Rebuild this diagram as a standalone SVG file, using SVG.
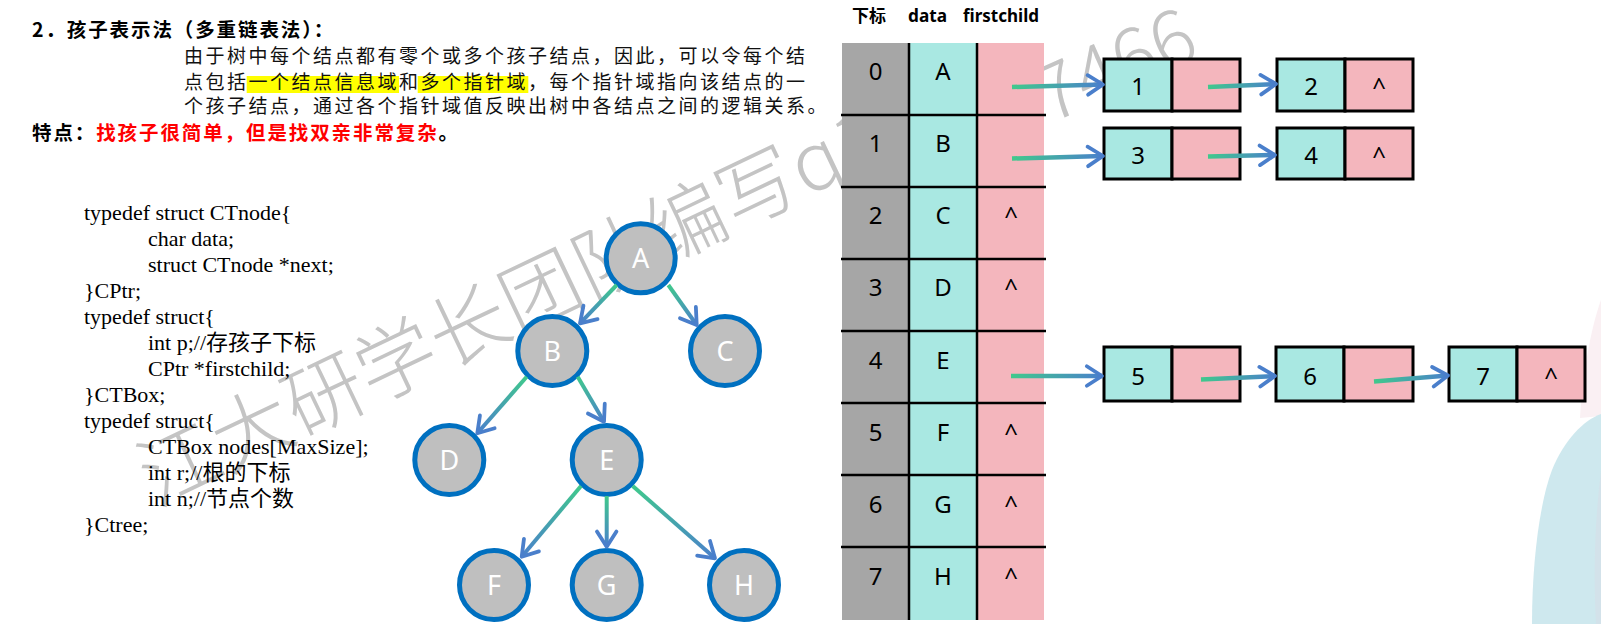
<svg xmlns="http://www.w3.org/2000/svg" width="1601" height="624" viewBox="0 0 1601 624">
<style>
.wm{font-family:"Noto Sans CJK SC","Noto Sans",sans-serif;font-weight:300;fill:#C4C4C4}
.ttl{font-family:"Noto Sans CJK SC",sans-serif;font-weight:bold;font-size:19.5px;letter-spacing:1.9px;fill:#000}
.par{font-family:"Noto Sans CJK SC",sans-serif;font-size:19px;letter-spacing:2.5px;fill:#111}
.code{font-family:"Liberation Serif","Noto Sans CJK SC",serif;font-size:22px;fill:#000}
.hl{fill:#FFFF00}
.hdr{font-family:"Noto Sans","Noto Sans CJK SC",sans-serif;font-weight:bold;font-size:17px;fill:#000}
.cell{font-family:"Noto Sans",sans-serif;font-size:24px;fill:#000;text-anchor:middle}
.tn circle{fill:#BFBFBF;stroke:#0070C0;stroke-width:5}
.tn text{font-family:"Noto Sans",sans-serif;font-size:27px;fill:#fff;text-anchor:middle}
.bx{stroke:#000;stroke-width:3}
.cy{fill:#A9E8E2}
.pk{fill:#F4B6BD}
.gr{fill:#A6A6A6}
.tl{stroke:#000;stroke-width:2.5}
.ce{fill:none;stroke-width:4}
.le{fill:none;stroke-width:4.5}
</style>
<defs>
<marker id="ah" markerUnits="userSpaceOnUse" markerWidth="26" markerHeight="26" viewBox="0 0 24 24" refX="20" refY="12" orient="auto">
<path d="M6,3 L20,12 L6,21" fill="none" stroke="#4A7FCB" stroke-width="3.5" stroke-linecap="round" stroke-linejoin="round"/>
</marker>
<linearGradient id="g1" gradientUnits="userSpaceOnUse" x1="616.7" y1="285" x2="580" y2="323.3"><stop offset="0" stop-color="#40C98C"/><stop offset="1" stop-color="#4A80CC"/></linearGradient>
<linearGradient id="g2" gradientUnits="userSpaceOnUse" x1="668.3" y1="285" x2="696.7" y2="325"><stop offset="0" stop-color="#40C98C"/><stop offset="1" stop-color="#4A80CC"/></linearGradient>
<linearGradient id="g3" gradientUnits="userSpaceOnUse" x1="526.7" y1="376.7" x2="477.3" y2="433.3"><stop offset="0" stop-color="#40C98C"/><stop offset="1" stop-color="#4A80CC"/></linearGradient>
<linearGradient id="g4" gradientUnits="userSpaceOnUse" x1="577.7" y1="376.7" x2="604" y2="421.7"><stop offset="0" stop-color="#40C98C"/><stop offset="1" stop-color="#4A80CC"/></linearGradient>
<linearGradient id="g5" gradientUnits="userSpaceOnUse" x1="581" y1="486" x2="521.7" y2="556.7"><stop offset="0" stop-color="#40C98C"/><stop offset="1" stop-color="#4A80CC"/></linearGradient>
<linearGradient id="g6" gradientUnits="userSpaceOnUse" x1="606.7" y1="496" x2="606.7" y2="546.7"><stop offset="0" stop-color="#40C98C"/><stop offset="1" stop-color="#4A80CC"/></linearGradient>
<linearGradient id="g7" gradientUnits="userSpaceOnUse" x1="632.7" y1="486" x2="715" y2="558.3"><stop offset="0" stop-color="#40C98C"/><stop offset="1" stop-color="#4A80CC"/></linearGradient>
<linearGradient id="h1" gradientUnits="userSpaceOnUse" x1="1012" y1="87" x2="1103" y2="84.5"><stop offset="0" stop-color="#40C98C"/><stop offset="1" stop-color="#4A80CC"/></linearGradient>
<linearGradient id="h2" gradientUnits="userSpaceOnUse" x1="1208" y1="87" x2="1276" y2="84"><stop offset="0" stop-color="#40C98C"/><stop offset="1" stop-color="#4A80CC"/></linearGradient>
<linearGradient id="h3" gradientUnits="userSpaceOnUse" x1="1012" y1="158.5" x2="1103" y2="156"><stop offset="0" stop-color="#40C98C"/><stop offset="1" stop-color="#4A80CC"/></linearGradient>
<linearGradient id="h4" gradientUnits="userSpaceOnUse" x1="1208" y1="156.5" x2="1275" y2="155"><stop offset="0" stop-color="#40C98C"/><stop offset="1" stop-color="#4A80CC"/></linearGradient>
<linearGradient id="h5" gradientUnits="userSpaceOnUse" x1="1011" y1="376" x2="1102" y2="376"><stop offset="0" stop-color="#40C98C"/><stop offset="1" stop-color="#4A80CC"/></linearGradient>
<linearGradient id="h6" gradientUnits="userSpaceOnUse" x1="1201" y1="379.5" x2="1275" y2="376"><stop offset="0" stop-color="#40C98C"/><stop offset="1" stop-color="#4A80CC"/></linearGradient>
<linearGradient id="h7" gradientUnits="userSpaceOnUse" x1="1374" y1="381.5" x2="1448" y2="375.5"><stop offset="0" stop-color="#40C98C"/><stop offset="1" stop-color="#4A80CC"/></linearGradient>
</defs>
<rect width="1601" height="624" fill="#fff"/>
<g id="decoration">
<path d="M1601,300 C1590,330 1582,380 1580,418 L1601,416 Z" fill="#FAF0F3"/>
<path d="M1601,414 C1584,420 1564,440 1552,470 C1540,502 1532,560 1532,624 L1601,624 Z" fill="#CEE8EE"/>
<path d="M1601,470 C1595,520 1593,570 1596,624 L1601,624 Z" fill="#D3E2EA"/>
</g>
<g id="watermark">
<text class="wm" font-size="80" transform="translate(156,507) rotate(-25.5)">江大研学长团队编写q1</text>
<text class="wm" font-size="78" transform="translate(1050,124) rotate(-24)">7466</text>
</g>
<g id="description">
<text class="ttl" x="32" y="37">2．孩子表示法（多重链表法）：</text>
<rect class="hl" x="246.7" y="76" width="152.3" height="17"/>
<rect class="hl" x="417.7" y="76" width="110.6" height="17"/>
<text class="par" x="184" y="63">由于树中每个结点都有零个或多个孩子结点，因此，可以令每个结</text>
<text class="par" x="184" y="88.5">点包括一个结点信息域和多个指针域，每个指针域指向该结点的一</text>
<text class="par" x="184" y="113">个孩子结点，通过各个指针域值反映出树中各结点之间的逻辑关系。</text>
<text class="ttl" x="32" y="140">特点：<tspan fill="#FF0000">找孩子很简单，但是找双亲非常复杂</tspan>。</text>
</g>
<g id="code">
<text class="code" x="84" y="220">typedef struct CTnode{</text>
<text class="code" x="148" y="246">char data;</text>
<text class="code" x="148" y="272">struct CTnode *next;</text>
<text class="code" x="84" y="298">}CPtr;</text>
<text class="code" x="84" y="324">typedef struct{</text>
<text class="code" x="148" y="350">int p;//存孩子下标</text>
<text class="code" x="148" y="376">CPtr *firstchild;</text>
<text class="code" x="84" y="402">}CTBox;</text>
<text class="code" x="84" y="428">typedef struct{</text>
<text class="code" x="148" y="454">CTBox nodes[MaxSize];</text>
<text class="code" x="148" y="480">int r;//根的下标</text>
<text class="code" x="148" y="506">int n;//节点个数</text>
<text class="code" x="84" y="532">}Ctree;</text>
</g>
<g id="tree-A" class="tn"><circle cx="640.7" cy="258.3" r="34.5"/><text x="640.7" y="268">A</text></g>
<g id="tree-B" class="tn"><circle cx="552.3" cy="351" r="34.5"/><text x="552.3" y="360.7">B</text></g>
<g id="tree-C" class="tn"><circle cx="725" cy="351" r="34.5"/><text x="725" y="360.7">C</text></g>
<g id="tree-D" class="tn"><circle cx="449.3" cy="460" r="34.5"/><text x="449.3" y="469.7">D</text></g>
<g id="tree-E" class="tn"><circle cx="606.7" cy="460" r="34.5"/><text x="606.7" y="469.7">E</text></g>
<g id="tree-F" class="tn"><circle cx="494" cy="585" r="34.5"/><text x="494" y="594.7">F</text></g>
<g id="tree-G" class="tn"><circle cx="606.7" cy="585" r="34.5"/><text x="606.7" y="594.7">G</text></g>
<g id="tree-H" class="tn"><circle cx="744" cy="585" r="34.5"/><text x="744" y="594.7">H</text></g>
<g id="table">
<text class="hdr" x="852" y="22" font-size="20">下标</text>
<text class="hdr" x="908" y="22" textLength="39" lengthAdjust="spacingAndGlyphs">data</text>
<text class="hdr" x="963" y="22" textLength="76" lengthAdjust="spacingAndGlyphs">firstchild</text>
<rect class="gr" x="842" y="43" width="67" height="577"/>
<rect class="cy" x="909" y="43" width="68" height="577"/>
<rect class="pk" x="977" y="43" width="67" height="577"/>
<line class="tl" x1="909" y1="43" x2="909" y2="620"/>
<line class="tl" x1="977" y1="43" x2="977" y2="620"/>
<line class="tl" x1="841" y1="115" x2="1046" y2="115"/>
<line class="tl" x1="841" y1="187" x2="1046" y2="187"/>
<line class="tl" x1="841" y1="259" x2="1046" y2="259"/>
<line class="tl" x1="841" y1="331" x2="1046" y2="331"/>
<line class="tl" x1="841" y1="403" x2="1046" y2="403"/>
<line class="tl" x1="841" y1="475" x2="1046" y2="475"/>
<line class="tl" x1="841" y1="547" x2="1046" y2="547"/>
<g id="row0"><text class="cell" x="875.5" y="80">0</text><text class="cell" x="943" y="80">A</text></g>
<g id="row1"><text class="cell" x="875.5" y="152">1</text><text class="cell" x="943" y="152">B</text></g>
<g id="row2"><text class="cell" x="875.5" y="224">2</text><text class="cell" x="943" y="224">C</text><text class="cell" x="1011" y="224">^</text></g>
<g id="row3"><text class="cell" x="875.5" y="296">3</text><text class="cell" x="943" y="296">D</text><text class="cell" x="1011" y="296">^</text></g>
<g id="row4"><text class="cell" x="875.5" y="369">4</text><text class="cell" x="943" y="369">E</text></g>
<g id="row5"><text class="cell" x="875.5" y="441">5</text><text class="cell" x="943" y="441">F</text><text class="cell" x="1011" y="441">^</text></g>
<g id="row6"><text class="cell" x="875.5" y="513">6</text><text class="cell" x="943" y="513">G</text><text class="cell" x="1011" y="513">^</text></g>
<g id="row7"><text class="cell" x="875.5" y="585">7</text><text class="cell" x="943" y="585">H</text><text class="cell" x="1011" y="585">^</text></g>
</g>
<g id="list-1"><rect class="bx cy" x="1104" y="59" width="68" height="52"/><rect class="bx pk" x="1172" y="59" width="68" height="52"/><text class="cell" x="1138" y="95">1</text></g>
<g id="list-2"><rect class="bx cy" x="1277" y="59" width="68" height="52"/><rect class="bx pk" x="1345" y="59" width="68" height="52"/><text class="cell" x="1311" y="95">2</text><text class="cell" x="1379" y="95">^</text></g>
<g id="list-3"><rect class="bx cy" x="1104" y="128" width="68" height="51"/><rect class="bx pk" x="1172" y="128" width="68" height="51"/><text class="cell" x="1138" y="164">3</text></g>
<g id="list-4"><rect class="bx cy" x="1277" y="128" width="68" height="51"/><rect class="bx pk" x="1345" y="128" width="68" height="51"/><text class="cell" x="1311" y="164">4</text><text class="cell" x="1379" y="164">^</text></g>
<g id="list-5"><rect class="bx cy" x="1104" y="347" width="68" height="54"/><rect class="bx pk" x="1172" y="347" width="68" height="54"/><text class="cell" x="1138" y="385">5</text></g>
<g id="list-6"><rect class="bx cy" x="1276" y="347" width="68" height="54"/><rect class="bx pk" x="1344" y="347" width="69" height="54"/><text class="cell" x="1310" y="385">6</text></g>
<g id="list-7"><rect class="bx cy" x="1449" y="347" width="68" height="54"/><rect class="bx pk" x="1517" y="347" width="68" height="54"/><text class="cell" x="1483" y="385">7</text><text class="cell" x="1551" y="385">^</text></g>
<g id="connectors">
<line class="ce" stroke="url(#g1)" x1="616.7" y1="285" x2="580" y2="323.3" marker-end="url(#ah)"/>
<line class="ce" stroke="url(#g2)" x1="668.3" y1="285" x2="696.7" y2="325" marker-end="url(#ah)"/>
<line class="ce" stroke="url(#g3)" x1="526.7" y1="376.7" x2="477.3" y2="433.3" marker-end="url(#ah)"/>
<line class="ce" stroke="url(#g4)" x1="577.7" y1="376.7" x2="604" y2="421.7" marker-end="url(#ah)"/>
<line class="ce" stroke="url(#g5)" x1="581" y1="486" x2="521.7" y2="556.7" marker-end="url(#ah)"/>
<line class="ce" stroke="url(#g6)" x1="606.7" y1="496" x2="606.7" y2="546.7" marker-end="url(#ah)"/>
<line class="ce" stroke="url(#g7)" x1="632.7" y1="486" x2="715" y2="558.3" marker-end="url(#ah)"/>
<line class="le" stroke="url(#h1)" x1="1012" y1="87" x2="1103" y2="84.5" marker-end="url(#ah)"/>
<line class="le" stroke="url(#h2)" x1="1208" y1="87" x2="1276" y2="84" marker-end="url(#ah)"/>
<line class="le" stroke="url(#h3)" x1="1012" y1="158.5" x2="1103" y2="156" marker-end="url(#ah)"/>
<line class="le" stroke="url(#h4)" x1="1208" y1="156.5" x2="1275" y2="155" marker-end="url(#ah)"/>
<line class="le" stroke="url(#h5)" x1="1011" y1="376" x2="1102" y2="376" marker-end="url(#ah)"/>
<line class="le" stroke="url(#h6)" x1="1201" y1="379.5" x2="1275" y2="376" marker-end="url(#ah)"/>
<line class="le" stroke="url(#h7)" x1="1374" y1="381.5" x2="1448" y2="375.5" marker-end="url(#ah)"/>
</g>
</svg>
